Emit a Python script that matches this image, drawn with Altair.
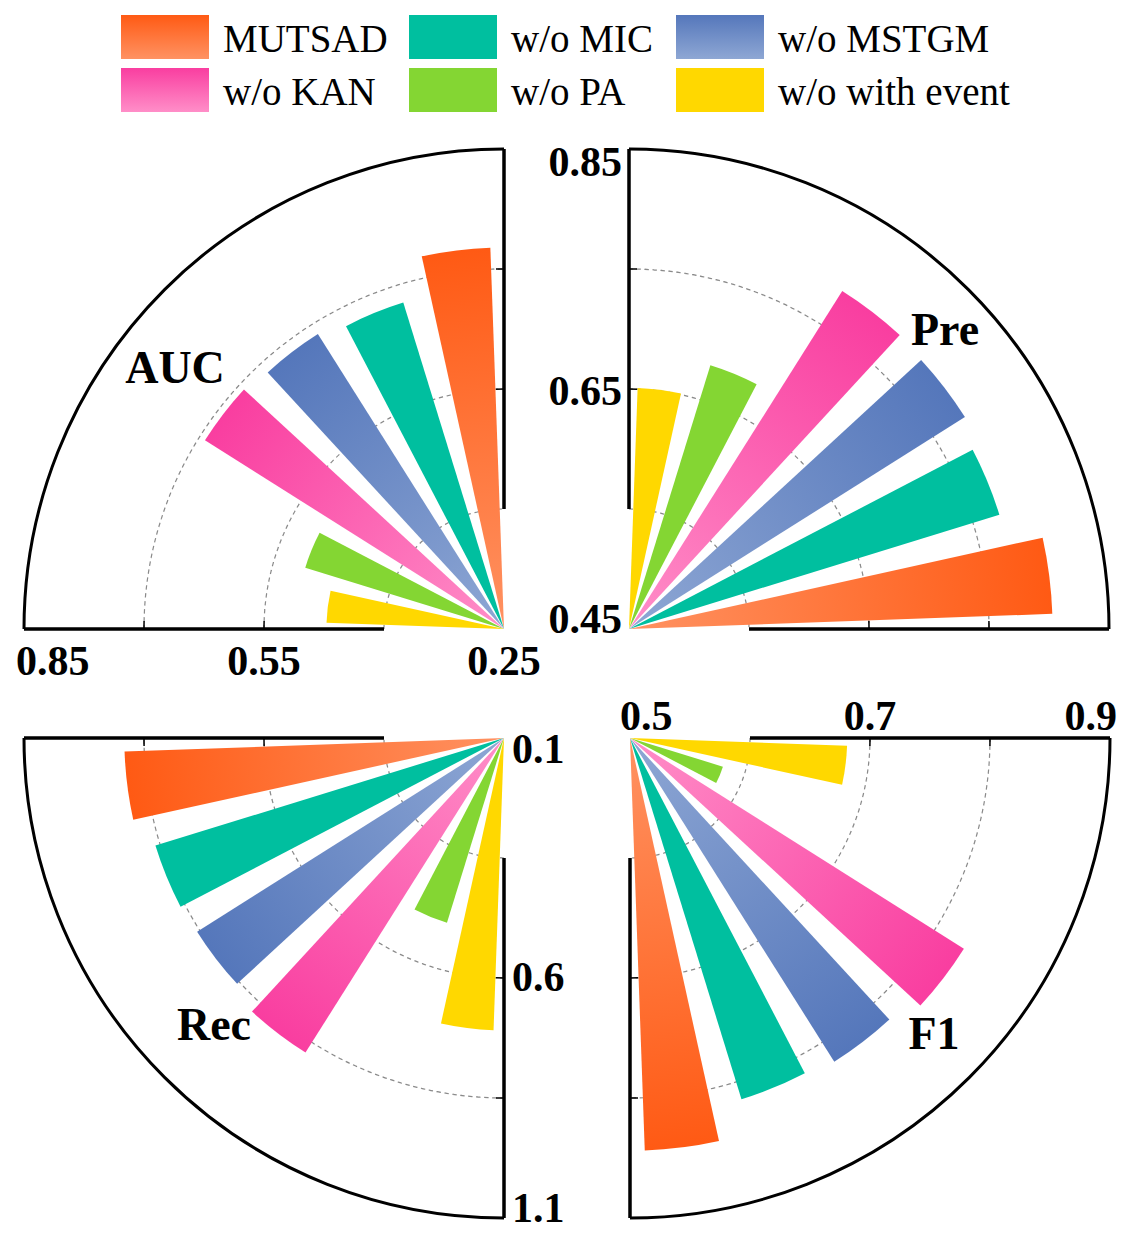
import math
import altair as alt
import pandas as pd

# ---------------- data ----------------
series = ["MUTSAD", "w/o MIC", "w/o MSTGM", "w/o KAN", "w/o PA", "w/o with event"]
metrics = ["AUC", "Pre", "Rec", "F1"]
auc_values = [0.727, 0.677, 0.686, 0.692, 0.510, 0.472]
pre_values = [0.803, 0.773, 0.781, 0.783, 0.680, 0.651]
rec_values = [0.891, 0.860, 0.856, 0.875, 0.503, 0.709]
f1_values = [0.844, 0.815, 0.819, 0.829, 0.581, 0.681]
auc_ticks = ["0.25", "0.55", "0.85"]
pre_ticks = ["0.45", "0.65", "0.85"]
rec_ticks = ["0.1", "0.6", "1.1"]
f1_ticks = ["0.5", "0.7", "0.9"]
clockwise_order = ["w/o with event", "w/o PA", "w/o KAN", "w/o MSTGM", "w/o MIC", "MUTSAD"]

values = {"AUC": auc_values, "Pre": pre_values, "Rec": rec_values, "F1": f1_values}
ticks = {"AUC": auc_ticks, "Pre": pre_ticks, "Rec": rec_ticks, "F1": f1_ticks}

# ---------------- layout / style ----------------
W, H = 1116, 1223
R = 480
centers = {"AUC": (496, 621), "Pre": (621, 621), "Rec": (496, 730), "F1": (622, 730)}
base_deg = {"AUC": 270, "Pre": 0, "Rec": 180, "F1": 90}
STEP, BARW = 15.1, 10.4
dark = {"MUTSAD": "#FF5A14", "w/o MIC": "#00BF9F", "w/o MSTGM": "#5577BB",
        "w/o KAN": "#F93EA0", "w/o PA": "#84D633", "w/o with event": "#FFD800"}
light = {"MUTSAD": "#FF9262", "w/o MSTGM": "#8EA7D4", "w/o KAN": "#FF8EC8"}
FONT = "Liberation Serif"

rscale = alt.Scale(type="linear", domain=[0, 1], range=[0, R])

rows = []
for m in metrics:
    lo, hi = float(ticks[m][0]), float(ticks[m][-1])
    for s, v in zip(series, values[m]):
        rows.append({"metric": m, "series": s, "value": v,
                     "k": clockwise_order.index(s), "lo": lo, "hi": hi})
bars_df = pd.DataFrame(rows)


def bar_gradient(a0, a1, rpx, c_light, c_dark):
    pts = [(0.0, 0.0)] + [(rpx * math.sin(a), -rpx * math.cos(a)) for a in (a0, a1)]
    xs = [p[0] for p in pts]
    ys = [p[1] for p in pts]
    x0, x1 = min(xs), max(xs)
    y0, y1 = min(ys), max(ys)
    w = max(x1 - x0, 1e-6)
    h = max(y1 - y0, 1e-6)
    am = (a0 + a1) / 2
    dx, dy = math.sin(am), -math.cos(am)
    L = rpx * math.cos((a1 - a0) / 2)
    qx, qy = -x0 / w, -y0 / h
    den = w * w * dx * dx + h * h * dy * dy
    du = L * w * dx / den
    dv = L * h * dy / den
    return alt.LinearGradient(
        gradient="linear",
        stops=[alt.GradientStop(color=c_light, offset=0),
               alt.GradientStop(color=c_dark, offset=1)],
        x1=qx, y1=qy, x2=qx + du, y2=qy + dv,
    )


def one_row(m):
    return pd.DataFrame({"metric": [m]})


layers = []

# gridlines (dashed quarter arcs)
for m in metrics:
    cx, cy = centers[m]
    b = math.radians(base_deg[m])
    for frac in (0.25, 0.5, 0.75):
        r = frac * R
        n = round(math.pi * r / 8.0 - 0.5) + 0.5
        p = math.pi * r / n
        layers.append(
            alt.Chart(one_row(m)).mark_arc(
                filled=False, stroke="#8a8a8a", strokeWidth=1.2, strokeDash=[p / 2, p / 2]
            ).encode(theta=alt.value(b), theta2=alt.value(b + math.pi / 2),
                     radius=alt.value(r), radius2=alt.value(r),
                     x=alt.value(cx), y=alt.value(cy))
        )

# bars
for m in metrics:
    cx, cy = centers[m]
    base = base_deg[m]
    lo, hi = float(ticks[m][0]), float(ticks[m][-1])
    for s, v in zip(series, values[m]):
        k = clockwise_order.index(s)
        a0 = math.radians(base + 45 + STEP * (k - 2.5) - BARW / 2)
        a1 = math.radians(base + 45 + STEP * (k - 2.5) + BARW / 2)
        rpx = (v - lo) / (hi - lo) * R
        if s in light:
            fill = bar_gradient(a0, a1, rpx, light[s], dark[s])
        else:
            fill = dark[s]
        layers.append(
            alt.Chart(bars_df).transform_filter(
                f"datum.metric == '{m}' && datum.series == '{s}'"
            ).transform_calculate(
                rn="(datum.value - datum.lo) / (datum.hi - datum.lo)",
                t0=f"({base} + 45 + {STEP} * (datum.k - 2.5) - {BARW / 2}) * PI / 180",
                t1=f"({base} + 45 + {STEP} * (datum.k - 2.5) + {BARW / 2}) * PI / 180",
            ).mark_arc(fill=fill, strokeWidth=0).encode(
                theta=alt.Theta("t0:Q", scale=None, stack=None),
                theta2=alt.Theta2("t1"),
                radius=alt.Radius("rn:Q", scale=rscale),
                radius2=alt.value(0),
                x=alt.value(cx), y=alt.value(cy),
                tooltip=["metric:N", "series:N", "value:Q"],
            )
        )

# frame: outer arc, straight edges, inner ticks
for m in metrics:
    cx, cy = centers[m]
    b = math.radians(base_deg[m])
    e = b + math.pi / 2
    layers.append(
        alt.Chart(one_row(m)).mark_arc(filled=False, stroke="black", strokeWidth=3).encode(
            theta=alt.value(b), theta2=alt.value(e),
            radius=alt.value(R), radius2=alt.value(R),
            x=alt.value(cx), y=alt.value(cy))
    )
    for ang in (b, e):
        layers.append(
            alt.Chart(one_row(m)).mark_arc(filled=False, stroke="black", strokeWidth=3.5).encode(
                theta=alt.value(ang), theta2=alt.value(ang),
                radius=alt.value(R), radius2=alt.value(0.25 * R),
                x=alt.value(cx), y=alt.value(cy))
        )
    for frac in (0.5, 0.75):
        r = frac * R
        d = 8.0 / r
        for t0, t1 in ((b, b + d), (e - d, e)):
            layers.append(
                alt.Chart(one_row(m)).mark_arc(filled=False, stroke="black", strokeWidth=1.5).encode(
                    theta=alt.value(t0), theta2=alt.value(t1),
                    radius=alt.value(r), radius2=alt.value(r),
                    x=alt.value(cx), y=alt.value(cy))
            )

# radial tick labels
label_theta = {"AUC": 1.5 * math.pi, "Pre": 0.0, "Rec": math.pi, "F1": 0.5 * math.pi}
label_style = {
    "AUC": [("center", 0, 46), ("center", 0, 46), ("left", -8, 46)],
    "Pre": [("right", -7, 4), ("right", -7, 16), ("right", -7, 27)],
    "Rec": [("left", 8, 25), ("left", 8, 13), ("left", 8, 4)],
    "F1": [("left", -10, -8), ("center", 0, -8), ("right", 7, -8)],
}
tick_rows = []
for m in metrics:
    lo, hi = float(ticks[m][0]), float(ticks[m][-1])
    for lab in ticks[m]:
        tick_rows.append({"metric": m, "label": lab, "lo": lo, "hi": hi})
ticks_df = pd.DataFrame(tick_rows)
for m in metrics:
    cx, cy = centers[m]
    for lab, (al, dx, dy) in zip(ticks[m], label_style[m]):
        layers.append(
            alt.Chart(ticks_df).transform_filter(
                f"datum.metric == '{m}' && datum.label == '{lab}'"
            ).transform_calculate(
                rn="(toNumber(datum.label) - datum.lo) / (datum.hi - datum.lo)"
            ).mark_text(
                align=al, baseline="alphabetic", dx=dx, dy=dy,
                font=FONT, fontSize=42, fontWeight="bold", color="black"
            ).encode(
                text="label:N",
                radius=alt.Radius("rn:Q", scale=rscale),
                theta=alt.value(label_theta[m]),
                x=alt.value(cx), y=alt.value(cy),
            )
        )

# metric names
metric_pos = {"AUC": (167, 375), "Pre": (937, 337), "Rec": (206, 1032), "F1": (926, 1041)}
for m in metrics:
    px, py = metric_pos[m]
    layers.append(
        alt.Chart(one_row(m)).mark_text(
            align="center", baseline="alphabetic", font=FONT, fontSize=46,
            fontWeight="bold", color="black"
        ).encode(text="metric:N", x=alt.value(px), y=alt.value(py))
    )

# legend (hand-built, 3 columns x 2 rows)
leg_x = [113, 401, 668]
leg_y = [7, 60]
SW, SH = 88, 44
for i, s in enumerate(series):
    col, row = i % 3, i // 3
    x0, y0 = leg_x[col], leg_y[row]
    if s in light:
        sw_fill = alt.LinearGradient(
            gradient="linear",
            stops=[alt.GradientStop(color=dark[s], offset=0),
                   alt.GradientStop(color=light[s], offset=1)],
            x1=0, y1=0, x2=0, y2=1)
    else:
        sw_fill = dark[s]
    legend_row = pd.DataFrame({"series": [s]})
    layers.append(
        alt.Chart(legend_row).mark_rect(fill=sw_fill).encode(
            x=alt.value(x0), x2=alt.value(x0 + SW),
            y=alt.value(y0), y2=alt.value(y0 + SH))
    )
    layers.append(
        alt.Chart(legend_row).mark_text(
            align="left", baseline="alphabetic", font=FONT, fontSize=39, color="black"
        ).encode(text="series:N", x=alt.value(x0 + 102), y=alt.value(y0 + 37))
    )

chart = alt.layer(*layers).properties(
    width=W, height=H, autosize=alt.AutoSizeParams(type="none"), padding=0,
    background="white",
).configure_view(strokeWidth=0)

chart.save("out.html", embed_options={"renderer": "svg", "actions": False})
